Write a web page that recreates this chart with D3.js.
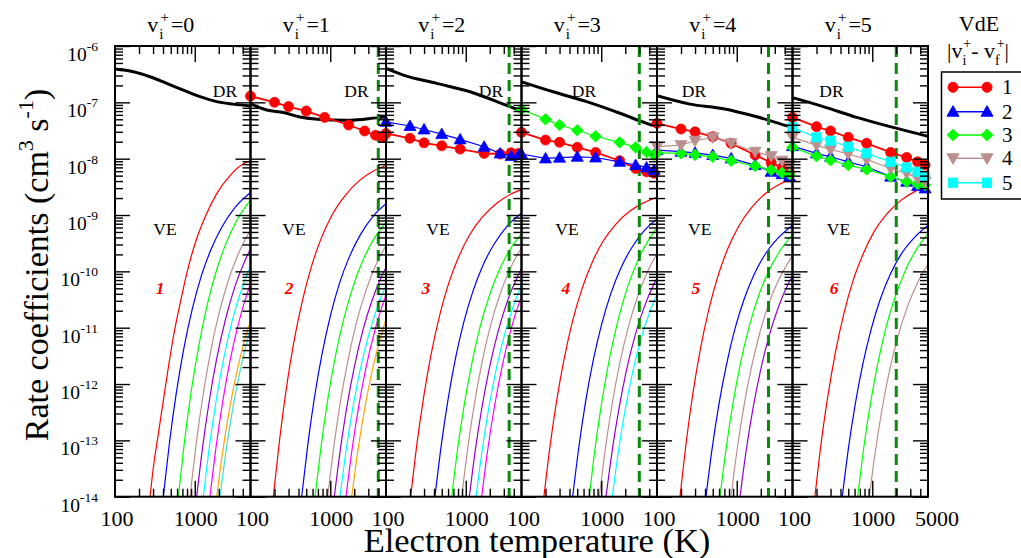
<!DOCTYPE html>
<html><head><meta charset="utf-8">
<script src="https://cdn.jsdelivr.net/npm/d3@7"></script>
<style>
body{margin:0;background:#fff;}
</style></head><body>
<svg id="c" width="1021" height="558"></svg>
<script>
// ---------------- DATA ----------------
const panelLabels = ["0","1","2","3","4","5"];          // v_i^+ of each panel
const yDecades = [-6,-7,-8,-9,-10,-11,-12,-13,-14];      // y tick exponents
const xTickLabels = ["100","1000"];                       // per panel
const lastXLabel = "5000";
const dashedT = [null,4000,3500,3000,2500,2000];          // vertical dashed line per panel (K)
const veColors = ["#ff0000","#0000ff","#00ff00","#bc8f8f","#9400d3","#00ffff","#ff00ff","#ffa500","#40e0d0"];
const vdeLabels = ["1","2","3","4","5"];
const vdeColors = ["#ff0000","#0000ff","#00ff00","#bc8f8f","#00ffff"];

// DR curves: [T (K), rate (cm^3 s^-1)]
const dr0 = [[100,3.9e-7],[170,3.5e-7],[275,2.85e-7],[445,2.17e-7],[718,1.65e-7],[1164,1.26e-7],[1884,1.03e-7],[3041,9.3e-8],[5000,8.6e-8]];
const dr1 = [[100,9.4e-8],[160,7.3e-8],[258,6.6e-8],[418,5.5e-8],[1092,4.85e-8],[1770,4.8e-8],[3818,5.3e-8],[5000,5.5e-8]];
const dr2 = [[100,4.0e-7],[165,3.05e-7],[432,2.17e-7],[1130,1.54e-7],[2958,9.3e-8],[5000,7.0e-8]];
const dr3 = [[100,2.32e-7],[250,1.54e-7],[657,1.03e-7],[1718,6.4e-8],[3715,4.24e-8],[5000,3.7e-8]];
const dr4 = [[100,1.31e-7],[259,9.3e-8],[678,7.7e-8],[1779,5.55e-8],[4656,3.7e-8],[5000,3.6e-8]];
const dr5 = [[100,1.21e-7],[243,8.4e-8],[638,5.4e-8],[1670,3.7e-8],[5000,2.5e-8]];

// VE curves: [T (K), log10 rate]
const ve0 = [
 [[275,-14],[302,-13.49],[349,-12.89],[403,-12.30],[466,-11.71],[538,-11.17],[653,-10.58],[793,-10.04],[1007,-9.51],[1344,-9.04],[1884,-8.62],[2767,-8.30],[4063,-8.09],[5000,-8.04]],
 [[403,-14],[484,-13.02],[584,-12.18],[725,-11.39],[927,-10.68],[1209,-10.08],[1612,-9.60],[2217,-9.20],[3224,-8.86],[5000,-8.60]],
 [[622,-14],[746,-13.00],[902,-12.13],[1120,-11.33],[1431,-10.60],[1866,-9.99],[2488,-9.49],[3421,-9.08],[5000,-8.73]],
 [[871,-14],[1045,-13.05],[1263,-12.22],[1568,-11.45],[2003,-10.76],[2613,-10.18],[3484,-9.70],[5000,-9.27]],
 [[1057,-14],[1268,-13.07],[1533,-12.27],[1903,-11.52],[2431,-10.85],[3171,-10.28],[4228,-9.82],[5000,-9.60]],
 [[1281,-14],[1537,-13.08],[1857,-12.29],[2306,-11.55],[2946,-10.88],[3843,-10.33],[5000,-9.90]],
 [[1552,-14],[1862,-13.09],[2250,-12.30],[2794,-11.56],[3570,-10.90],[4190,-10.55],[5000,-10.22]],
 [[1884,-14],[2261,-13.16],[2732,-12.44],[3391,-11.77],[4145,-11.27],[5000,-10.88]],
 [[2075,-14],[2490,-13.15],[3009,-12.42],[3735,-11.74],[4565,-11.22],[5000,-11.02]]
];
const ve1 = [
 [[193,-14],[232,-12.98],[280,-12.10],[347,-11.28],[444,-10.54],[579,-9.92],[772,-9.41],[1062,-8.99],[1544,-8.65],[2316,-8.39],[3474,-8.22],[5000,-8.12]],
 [[438,-14],[526,-13.05],[635,-12.23],[788,-11.47],[1007,-10.78],[1314,-10.20],[1752,-9.73],[2409,-9.34],[3504,-9.01],[5000,-8.80]],
 [[644,-14],[773,-13.07],[934,-12.26],[1159,-11.51],[1481,-10.84],[1932,-10.27],[2576,-9.80],[3542,-9.42],[5000,-9.13]],
 [[929,-14],[1115,-13.09],[1347,-12.30],[1672,-11.57],[2137,-10.90],[2787,-10.35],[3716,-9.89],[5000,-9.54]],
 [[1124,-14],[1349,-13.13],[1630,-12.37],[2023,-11.67],[2585,-11.03],[3372,-10.50],[4496,-10.06],[5000,-9.93]],
 [[1325,-14],[1590,-13.15],[1921,-12.42],[2385,-11.73],[3048,-11.12],[3975,-10.60],[5000,-10.25]],
 [[1575,-14],[1890,-13.13],[2284,-12.38],[2835,-11.68],[3623,-11.05],[4253,-10.71],[5000,-10.42]],
 [[1857,-14],[2228,-13.17],[2693,-12.45],[3343,-11.77],[4085,-11.27],[5000,-10.85]]
];
const ve2 = [
 [[204,-14],[245,-13.05],[296,-12.24],[367,-11.48],[469,-10.79],[612,-10.21],[816,-9.74],[1122,-9.35],[1632,-9.03],[2448,-8.79],[3672,-8.63],[5000,-8.55]],
 [[411,-14],[493,-13.09],[596,-12.30],[740,-11.56],[945,-10.90],[1233,-10.35],[1644,-9.89],[2261,-9.52],[3288,-9.20],[5000,-8.97]],
 [[667,-14],[800,-13.10],[967,-12.33],[1201,-11.61],[1534,-10.95],[2001,-10.41],[2668,-9.96],[3669,-9.59],[5000,-9.33]],
 [[890,-14],[1068,-13.10],[1291,-12.33],[1602,-11.61],[2047,-10.96],[2670,-10.42],[3560,-9.97],[5000,-9.58]],
 [[1109,-14],[1331,-13.13],[1608,-12.39],[1996,-11.69],[2551,-11.06],[3327,-10.53],[4436,-10.10],[5000,-9.95]],
 [[1346,-14],[1615,-13.15],[1952,-12.41],[2423,-11.72],[3096,-11.10],[4038,-10.58],[5000,-10.25]],
 [[1585,-14],[1902,-13.13],[2298,-12.39],[2853,-11.69],[3646,-11.06],[4280,-10.72],[5000,-10.45]]
];
const ve3 = [
 [[191,-14],[229,-13.08],[277,-12.28],[344,-11.54],[439,-10.87],[573,-10.31],[764,-9.85],[1051,-9.47],[1528,-9.16],[2292,-8.93],[3438,-8.78],[5000,-8.68]],
 [[438,-14],[526,-13.10],[635,-12.32],[788,-11.60],[1007,-10.95],[1314,-10.40],[1752,-9.95],[2409,-9.58],[3504,-9.27],[5000,-9.07]],
 [[708,-14],[850,-13.07],[1027,-12.28],[1274,-11.53],[1628,-10.86],[2124,-10.29],[2832,-9.83],[3894,-9.45],[5000,-9.23]],
 [[946,-14],[1135,-13.11],[1372,-12.35],[1703,-11.64],[2176,-11.00],[2838,-10.46],[3784,-10.01],[5000,-9.69]],
 [[1148,-14],[1378,-13.16],[1665,-12.44],[2066,-11.76],[2640,-11.15],[3444,-10.64],[4592,-10.22],[5000,-10.12]],
 [[1376,-14],[1651,-13.17],[1995,-12.46],[2477,-11.79],[3165,-11.19],[4128,-10.69],[5000,-10.40]]
];
const ve4 = [
 [[194,-14],[233,-13.02],[281,-12.18],[349,-11.39],[446,-10.68],[582,-10.08],[776,-9.59],[1067,-9.19],[1552,-8.86],[2328,-8.61],[3492,-8.45],[5000,-8.35]],
 [[411,-14],[493,-13.13],[596,-12.37],[740,-11.67],[945,-11.03],[1233,-10.50],[1644,-10.06],[2261,-9.70],[3288,-9.41],[5000,-9.18]],
 [[617,-14],[740,-13.12],[895,-12.35],[1111,-11.64],[1419,-11.00],[1851,-10.46],[2468,-10.02],[3394,-9.66],[5000,-9.35]],
 [[847,-14],[1016,-13.14],[1228,-12.40],[1525,-11.71],[1948,-11.09],[2541,-10.56],[3388,-10.14],[5000,-9.72]],
 [[1099,-14],[1319,-13.16],[1594,-12.44],[1978,-11.77],[2528,-11.16],[3297,-10.65],[4396,-10.23],[5000,-10.08]]
];
const ve5 = [
 [[191,-14],[229,-13.04],[277,-12.22],[344,-11.45],[439,-10.76],[573,-10.17],[764,-9.70],[1051,-9.30],[1528,-8.98],[2292,-8.74],[3438,-8.58],[5000,-8.48]],
 [[421,-14],[505,-13.12],[610,-12.37],[758,-11.66],[968,-11.03],[1263,-10.49],[1684,-10.05],[2316,-9.69],[3368,-9.40],[5000,-9.18]],
 [[657,-14],[788,-13.10],[953,-12.33],[1183,-11.61],[1511,-10.96],[1971,-10.42],[2628,-9.97],[3614,-9.60],[5000,-9.33]],
 [[919,-14],[1103,-13.16],[1333,-12.43],[1654,-11.75],[2114,-11.14],[2757,-10.63],[3676,-10.21],[5000,-9.87]]
];

// Marker series (VdE) temperatures and rates
const markerT = [100,200,300,500,850,1700,2700,3700,4600];
const p1_d1 = [1.29e-7,1.0e-7,8.4e-8,7.0e-8,5.4e-8,3.96e-8,3.1e-8,2.6e-8,2.39e-8];
const p2_d1 = [2.8e-8,2.3e-8,1.91e-8,1.69e-8,1.48e-8,1.24e-8,1.21e-8,1.27e-8,1.24e-8];
const p2_d2 = [4.5e-8,3.8e-8,3.3e-8,2.73e-8,2.2e-8,1.63e-8,1.24e-8,1.11e-8,1.16e-8];
const p3_d1 = [2.93e-8,2.14e-8,1.95e-8,1.59e-8,1.29e-8,9.2e-9,6.7e-9,5.85e-9,5.5e-9];
const p3_d2 = [1.21e-8,1.01e-8,1.04e-8,1.08e-8,1.05e-8,8.8e-9,7.7e-9,7.0e-9,6.3e-9];
const p3_d3 = [7.5e-8,5.0e-8,3.96e-8,3.2e-8,2.5e-8,1.95e-8,1.59e-8,1.31e-8,1.16e-8];
const p4_d1 = [4.24e-8,3.36e-8,3.0e-8,2.45e-8,1.87e-8,1.16e-8,8.5e-9,6.9e-9,5.6e-9];
const p4_d2 = [1.42e-8,1.33e-8,1.27e-8,1.16e-8,1.01e-8,7.7e-9,5.85e-9,5.3e-9,4.8e-9];
const p4_d3 = [1.27e-8,1.24e-8,1.17e-8,1.08e-8,9.2e-9,7.4e-9,6.3e-9,5.6e-9,5.3e-9];
const p4_d4 = [1.63e-8,1.74e-8,2.08e-8,2.39e-8,1.87e-8,1.33e-8,1.11e-8,9.2e-9,7.7e-9];
const p5_d1 = [5.4e-8,3.7e-8,3.1e-8,2.39e-8,1.87e-8,1.29e-8,1.05e-8,8.8e-9,7.7e-9];
const p5_d2 = [1.67e-8,1.24e-8,1.08e-8,8.8e-9,7.2e-9,4.8e-9,3.9e-9,3.26e-9,2.96e-9];
const p5_d3 = [1.59e-8,1.11e-8,9.4e-9,7.7e-9,6.45e-9,4.8e-9,3.9e-9,3.54e-9,3.4e-9];
const p5_d4 = [2.39e-8,1.74e-8,1.46e-8,1.21e-8,9.7e-9,6.7e-9,5.5e-9,4.47e-9,3.9e-9];
const p5_d5 = [3.6e-8,2.39e-8,2.08e-8,1.63e-8,1.24e-8,8.8e-9,7.0e-9,5.85e-9,4.9e-9];

// ---------------- BUILD ----------------
const FONT = "Liberation Serif";
const drAll = [dr0,dr1,dr2,dr3,dr4,dr5];
const veAll = [ve0,ve1,ve2,ve3,ve4,ve5];
const markerSeries = [
 {p:1,d:0,v:p1_d1},
 {p:2,d:0,v:p2_d1},{p:2,d:1,v:p2_d2},
 {p:3,d:0,v:p3_d1},{p:3,d:1,v:p3_d2},{p:3,d:2,v:p3_d3},
 {p:4,d:0,v:p4_d1},{p:4,d:1,v:p4_d2},{p:4,d:2,v:p4_d3},{p:4,d:3,v:p4_d4},
 {p:5,d:0,v:p5_d1},{p:5,d:1,v:p5_d2},{p:5,d:2,v:p5_d3},{p:5,d:3,v:p5_d4},{p:5,d:4,v:p5_d5}
];

const plotL=115, plotR=928, plotT=46, plotB=496.7;
const nP=panelLabels.length, pw=(plotR-plotL)/nP;
const svg=d3.select("#c");
const y=d3.scaleLog().domain([1e-14,1e-6]).range([plotB,plotT]);
const xs=panelLabels.map((_,i)=>d3.scaleLog().domain([100,5000]).range([plotL+i*pw, plotL+(i+1)*pw]));

function txt(parent,x,yy,size){
  return parent.append("text").attr("x",x).attr("y",yy).attr("font-size",size)
    .attr("font-family",FONT).attr("fill","#000");
}

const defs=svg.append("defs");
panelLabels.forEach((_,i)=>{
  defs.append("clipPath").attr("id","cp"+i).append("rect")
    .attr("x",plotL+i*pw).attr("y",plotT).attr("width",pw).attr("height",plotB-plotT);
});

function symPath(k){
  switch(k){
    case 0: return d3.symbol().type(d3.symbolCircle).size(Math.PI*25)();
    case 1: return "M0,-6L6,4.5L-6,4.5Z";
    case 2: return "M0,-5.8L5.8,0L0,5.8L-5.8,0Z";
    case 3: return "M0,6L6,-4.5L-6,-4.5Z";
    case 4: return "M-4.6,-4.6H4.6V4.6H-4.6Z";
  }
}

panelLabels.forEach((lab,i)=>{
  const x=xs[i];
  const g=svg.append("g").attr("clip-path",`url(#cp${i})`);
  const veLine=d3.line().x(d=>x(d[0])).y(d=>y(Math.pow(10,d[1]))).curve(d3.curveMonotoneX);
  veAll[i].forEach((c,k)=>{
    g.append("path").attr("d",veLine(c)).attr("fill","none")
      .attr("stroke",veColors[k]).attr("stroke-width",1.2);
  });
  const drLine=d3.line().x(d=>x(d[0])).y(d=>y(d[1])).curve(d3.curveMonotoneX);
  g.append("path").attr("d",drLine(drAll[i])).attr("fill","none")
    .attr("stroke","#000").attr("stroke-width",3);
  if(dashedT[i]){
    g.append("line").attr("x1",x(dashedT[i])).attr("x2",x(dashedT[i]))
      .attr("y1",plotT).attr("y2",plotB).attr("stroke","#0a8a0a")
      .attr("stroke-width",3).attr("stroke-dasharray","11,6");
  }
});

markerSeries.forEach(s=>{
  const x=xs[s.p];
  const pts=markerT.map((t,j)=>[t,s.v[j]]);
  const g=svg.append("g");
  g.append("path").attr("d",d3.line().x(d=>x(d[0])).y(d=>y(d[1]))(pts))
    .attr("fill","none").attr("stroke",vdeColors[s.d]).attr("stroke-width",s.d===0?1.8:1.2);
  g.selectAll("path.m").data(pts).join("path").attr("class","m")
    .attr("transform",d=>`translate(${x(d[0])},${y(d[1])})`)
    .attr("d",symPath(s.d)).attr("fill",vdeColors[s.d]).attr("stroke",vdeColors[s.d]).attr("stroke-width",0.8);
});

const yMajor=yDecades.map(e=>Math.pow(10,e));
const yMinor=[];
yDecades.slice(1).forEach(e=>{for(let m=2;m<=9;m++) yMinor.push(m*Math.pow(10,e));});
const xMajor=[1000];
const xMinor=[200,300,400,500,600,700,800,900,2000,3000,4000];

function clean(sel){sel.select(".domain").remove(); sel.selectAll("line").attr("stroke","#000").attr("stroke-width",1.4);}

panelLabels.forEach((lab,i)=>{
  const x=xs[i];
  const xl=plotL+i*pw, xr=plotL+(i+1)*pw;
  const ax=svg.append("g");
  ax.append("g").attr("transform",`translate(${xl},0)`).call(d3.axisRight(y).tickValues(yMajor).tickSize(15).tickFormat("")).call(clean);
  ax.append("g").attr("transform",`translate(${xl},0)`).call(d3.axisRight(y).tickValues(yMinor).tickSize(8).tickFormat("")).call(clean);
  ax.append("g").attr("transform",`translate(${xr},0)`).call(d3.axisLeft(y).tickValues(yMajor).tickSize(15).tickFormat("")).call(clean);
  ax.append("g").attr("transform",`translate(${xr},0)`).call(d3.axisLeft(y).tickValues(yMinor).tickSize(8).tickFormat("")).call(clean);
  ax.append("g").attr("transform",`translate(0,${plotB})`).call(d3.axisTop(x).tickValues(xMajor).tickSize(16).tickFormat("")).call(clean);
  ax.append("g").attr("transform",`translate(0,${plotB})`).call(d3.axisTop(x).tickValues(xMinor).tickSize(8).tickFormat("")).call(clean);
  ax.append("g").attr("transform",`translate(0,${plotT})`).call(d3.axisBottom(x).tickValues(xMajor).tickSize(16).tickFormat("")).call(clean);
  ax.append("g").attr("transform",`translate(0,${plotT})`).call(d3.axisBottom(x).tickValues(xMinor).tickSize(8).tickFormat("")).call(clean);
  ax.append("rect").attr("x",xl).attr("y",plotT).attr("width",pw).attr("height",plotB-plotT)
    .attr("fill","none").attr("stroke","#000").attr("stroke-width",2);

  txt(svg,x(100)+2,526,22).attr("text-anchor","middle").text(xTickLabels[0]);
  txt(svg,x(1000)+1,526,22).attr("text-anchor","middle").text(xTickLabels[1]);

  const t=txt(svg,(xl+xr)/2-35.5,32,22);
  t.append("tspan").text("v");
  t.append("tspan").attr("font-size",15).attr("dx",1).attr("dy",7).text("i");
  t.append("tspan").attr("font-size",15).attr("dx",-3).attr("dy",-17).text("+");
  t.append("tspan").attr("dx",2).attr("dy",10).text("="+lab);
});
txt(svg,xs[nP-1](5000)+9,526,22).attr("text-anchor","middle").text(lastXLabel);

yDecades.forEach(e=>{
  const t=txt(svg,98,y(Math.pow(10,e))+15,19.5).attr("text-anchor","end");
  t.append("tspan").text("10");
  t.append("tspan").attr("font-size",13.5).attr("dy",-10).text(String(e));
});

const drDx=[110,106,105,62.5,37,39];
const veDx=[50,43.5,52,45.5,42.7,46];
const numDx=[45,38.5,39.8,44.3,38.8,41.7];
panelLabels.forEach((lab,i)=>{
  const xl=plotL+i*pw;
  txt(svg,xl+drDx[i],96.5,17.5).attr("text-anchor","middle").text("DR");
  txt(svg,xl+veDx[i],235,17.5).attr("text-anchor","middle").text("VE");
  txt(svg,xl+numDx[i],293.5,17.5).attr("text-anchor","middle")
    .attr("font-style","italic").attr("font-weight","bold").attr("fill","#ff0000").text(String(i+1));
});

const yt=txt(svg,0,0,34).attr("transform","translate(48,265) rotate(-90)").attr("text-anchor","middle");
yt.append("tspan").text("Rate coefficients (cm");
yt.append("tspan").attr("font-size",22).attr("dy",-15).text("3");
yt.append("tspan").attr("dy",15).text(" s");
yt.append("tspan").attr("font-size",22).attr("dy",-15).text("-1");
yt.append("tspan").attr("dy",15).text(")");
txt(svg,537,552,34.5).attr("text-anchor","middle").text("Electron temperature (K)");

const lg=svg.append("g");
txt(lg,979,31,22).attr("text-anchor","middle").text("VdE");
const lt=txt(lg,947,58,22);
lt.append("tspan").text("|v");
lt.append("tspan").attr("font-size",14).attr("dy",7).text("i");
lt.append("tspan").attr("font-size",14).attr("dx",-3).attr("dy",-17).text("+");
lt.append("tspan").attr("dy",10).text("- v");
lt.append("tspan").attr("font-size",14).attr("dy",7).text("f");
lt.append("tspan").attr("font-size",14).attr("dx",-3).attr("dy",-17).text("+");
lt.append("tspan").attr("dy",10).text("|");
lg.append("rect").attr("x",941.5).attr("y",72).attr("width",100).attr("height",127)
  .attr("fill","#fff").attr("stroke","#000").attr("stroke-width",1.5);
const legY=[87.3,111.7,135,158.3,182.7];
vdeLabels.forEach((l,k)=>{
  const yy=legY[k];
  lg.append("line").attr("x1",953).attr("x2",987).attr("y1",yy).attr("y2",yy).attr("stroke",vdeColors[k]).attr("stroke-width",1.5);
  [953,987].forEach(xx=>lg.append("path").attr("transform",`translate(${xx},${yy})`).attr("d",symPath(k)).attr("fill",vdeColors[k]).attr("stroke",vdeColors[k]));
  txt(lg,1002,yy+7,21).text(l);
});
</script></body></html>
